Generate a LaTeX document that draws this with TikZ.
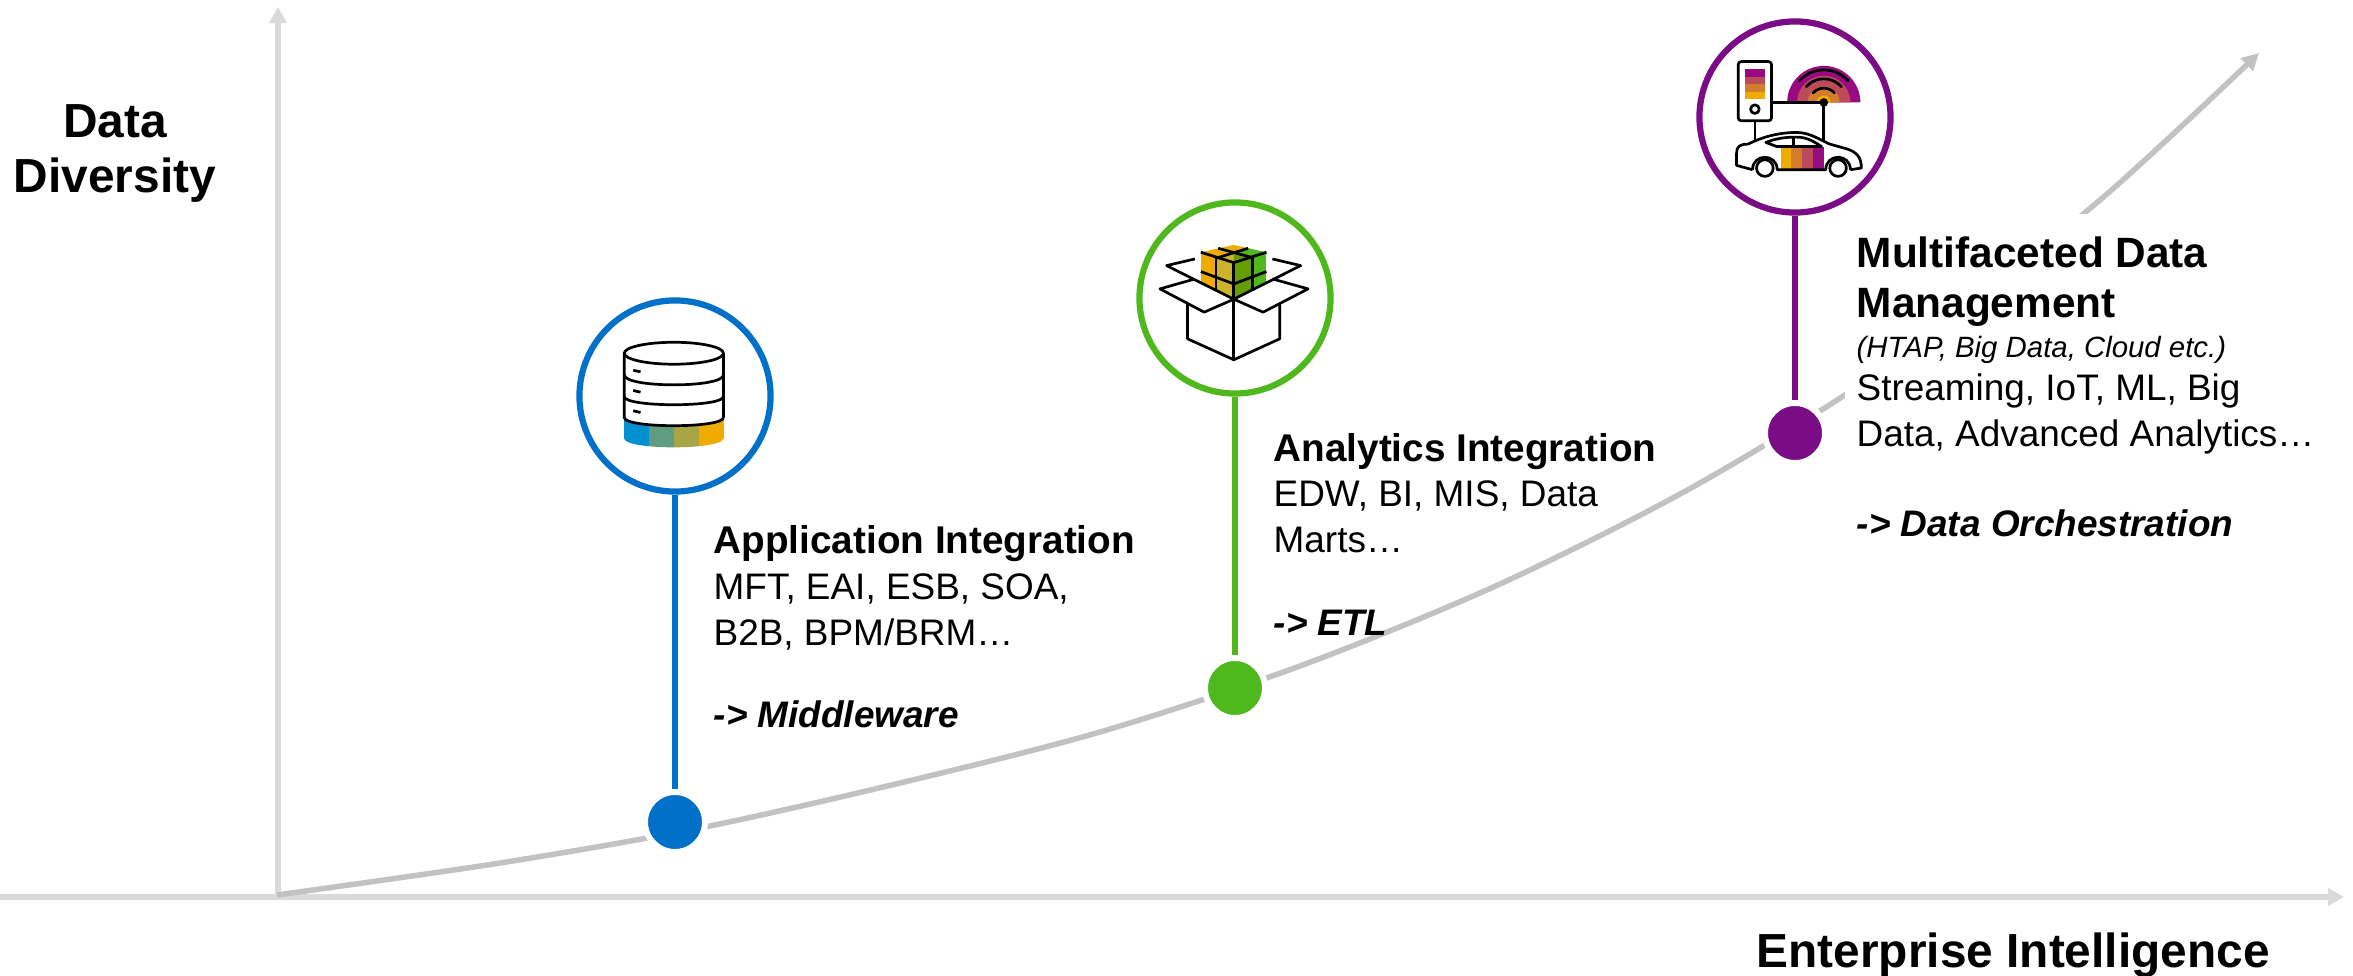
\documentclass[tikz,border=0pt]{standalone}
\usepackage{fontspec}
\setmainfont{Liberation Sans}
\usetikzlibrary{arrows.meta}
\definecolor{axisgray}{HTML}{DADADA}
\definecolor{curvegray}{HTML}{C2C2C2}
\definecolor{appblue}{HTML}{0070C9}
\definecolor{anagreen}{HTML}{4FB81C}
\definecolor{multipurple}{HTML}{7A0C85}
\definecolor{stripeamber}{HTML}{F0AB00}
\definecolor{stripeorange}{HTML}{D37C2B}
\definecolor{stripered}{HTML}{BB4A5A}
\definecolor{stripepurple}{HTML}{970A82}
\tikzset{
  axisline/.style={draw=axisgray,line width=.055cm,-{Triangle[length=.16cm,width=.17cm]}},
  curveline/.style={draw=curvegray,line width=.055cm,-{Triangle[length=.17cm,width=.17cm]}},
  ring/.style={circle,draw=#1,fill=white,line width=.062cm,minimum size=1.91cm,inner sep=0pt},
  dotmark/.style={circle,draw=white,fill=#1,line width=.06cm,minimum size=.6cm,inner sep=0pt},
  stem/.style={draw=#1,line width=.058cm},
  iconline/.style={draw=black,line width=.027cm,line join=round},
  zoomed/.style={shift={#1},x=.0033333cm,y=-.0033333cm},
  axistext/.style={inner sep=0pt,font=\fontsize{13.6}{15.65}\selectfont\bfseries},
  headtext/.style={inner sep=0pt,anchor=base west,align=left,font=\fontsize{11}{14.4}\selectfont\bfseries},
  bodytext/.style={inner sep=0pt,anchor=base west,align=left,font=\fontsize{10.5}{12.8}\selectfont},
  smalltext/.style={inner sep=0pt,anchor=base west,font=\fontsize{8.35}{10}\selectfont\itshape},
  goaltext/.style={inner sep=0pt,anchor=base west,font=\fontsize{10.5}{12.8}\selectfont\bfseries\itshape}
}
\begin{document}
\begin{tikzpicture}[x=.01cm,y=-.01cm]
    \useasboundingbox (0,0) rectangle (2353,976);
    \coordinate (xStart) at (0,897);
    \coordinate (xEnd) at (2344,897);
    \coordinate (yStart) at (278,899);
    \coordinate (yEnd) at (278,7);
    \draw[axisline] (xStart) -- (xEnd);
    \draw[axisline] (yStart) -- (yEnd);
    \draw[curveline] plot[smooth] coordinates {(277,895) (500,863) (700,828) (900,783) (1100,732) (1300,666) (1500,584) (1700,483) (1900,358) (2100,200) (2259,53)};
    \fill[white] (1845,214) rectangle (2345,560);

    \node[ring=appblue] (appRing) at (675,396) {};
    \node[dotmark=appblue] (appDot) at (675,822) {};
    \draw[stem=appblue] (appRing) -- (appDot);
    \node[ring=anagreen] (anaRing) at (1235,298) {};
    \node[dotmark=anagreen] (anaDot) at (1235,688) {};
    \draw[stem=anagreen] (anaRing) -- (anaDot);
    \node[ring=multipurple] (multiRing) at (1795,117) {};
    \node[dotmark=multipurple] (multiDot) at (1795,433) {};
    \draw[stem=multipurple] (multiRing) -- (multiDot);

    \begin{scope}[zoomed={(570,295)}]
      \begin{scope}
        \clip (162,368) -- (162,430) .. controls (162,467) and (462,467) .. (462,430) -- (462,368) .. controls (462,401) and (162,401) .. (162,368) -- cycle;
        \foreach \col/\xa/\xb in {0090D0/162/237, 5F9C80/237/312, A8A549/312/388, F0AB00/388/462} {
          \definecolor{bandcol}{HTML}{\col}
          \fill[bandcol] (\xa,360) rectangle (\xb,470);
        }
      \end{scope}
      \draw[iconline] (312,175) ellipse [x radius=149,y radius=33];
      \draw[iconline] (163,175) -- (163,368) .. controls (163,401) and (461,401) .. (461,368) -- (461,175);
      \draw[iconline] (163,240) .. controls (163,280) and (461,280) .. (461,240);
      \draw[iconline] (163,305) .. controls (163,338) and (461,338) .. (461,305);
      \foreach \ya in {226,287,348}
        \draw[iconline] (190,\ya) -- (212,\ya+5);
    \end{scope}

    \begin{scope}[zoomed={(1120,220)}]
      \begin{scope}
        \clip (342,128) -- (243,97) -- (243,185) -- (342,238) -- (440,185) -- (440,97) -- cycle;
        \fill[stripeamber] (243,70) rectangle (288,240);
        \fill[yellow!55!stripeamber!80!black] (288,70) rectangle (342,240);
        \fill[green!45!stripeamber!75!black] (342,70) rectangle (398,240);
        \fill[anagreen] (398,70) rectangle (440,240);
      \end{scope}
      \fill[stripeamber] (243,97) -- (342,75) -- (395,87) -- (342,98) -- (290,113) -- cycle;
      \fill[anagreen] (385,85) -- (342,98) -- (395,113) -- (440,97) -- cycle;
      \fill[yellow!55!stripeamber!80!black] (342,98) -- (290,113) -- (342,128) -- cycle;
      \fill[green!45!stripeamber!75!black] (342,98) -- (395,113) -- (342,128) -- cycle;
      \draw[iconline] (243,97) -- (342,128) -- (440,97);
      \draw[iconline] (295,85) -- (398,113);
      \draw[iconline] (385,85) -- (288,115);
      \draw[iconline] (288,115) -- (288,212);
      \draw[iconline] (398,113) -- (398,212);
      \draw[iconline] (243,155) -- (342,192) -- (440,155);
      \draw[iconline] (203,250) -- (203,357) -- (342,420) -- (480,357) -- (480,250);
      \draw[iconline] (342,128) -- (342,420);
      \draw[iconline] (222,178) -- (120,207) -- (253,277) -- (342,238) -- (430,277) -- (565,207) -- (458,177);
      \draw[iconline] (225,117) -- (140,137) -- (342,238) -- (543,137) -- (458,117);
    \end{scope}

    \begin{scope}[zoomed={(1680,0)}]
      \fill[stripepurple] plot[domain=180:360,samples=40] ({432+110*cos(\x)},{308+110*sin(\x)}) -- cycle;
      \fill[stripered] plot[domain=180:360,samples=40] ({432+80*cos(\x)},{308+80*sin(\x)}) -- cycle;
      \fill[stripeorange] plot[domain=180:360,samples=40] ({432+48*cos(\x)},{308+48*sin(\x)}) -- cycle;
      \fill[stripeamber] plot[domain=180:360,samples=30] ({432+21*cos(\x)},{308+21*sin(\x)}) -- cycle;
      \foreach \r in {98,71,43}
        \draw[iconline,line cap=round] plot[domain=222:318,samples=20] ({432+\r*cos(\x)},{308+\r*sin(\x)});
      \draw[iconline,rounded corners=.03cm] (175,185) rectangle (275,363);
      \fill[stripepurple] (195,207) rectangle (255,230);
      \fill[stripered] (195,230) rectangle (255,252);
      \fill[stripeorange] (195,252) rectangle (255,275);
      \fill[stripeamber] (195,275) rectangle (255,297);
      \draw[iconline] (225,328) circle [radius=13];
      \draw[iconline] (275,308) -- (432,308) -- (432,425);
      \draw[iconline] (225,363) -- (225,420);
      \fill[black] (432,308) circle [radius=13];
      \fill[stripeamber] (302,443) rectangle (334,508);
      \fill[stripeorange] (334,443) rectangle (367,508);
      \fill[stripered] (367,443) rectangle (400,508);
      \fill[stripepurple] (400,443) rectangle (432,508);
      \draw[iconline] (218,510) -- (170,497) -- (170,460) .. controls (170,440) and (180,433) .. (205,433) .. controls (250,410) and (300,398) .. (350,398) .. controls (390,398) and (420,420) .. (450,433) -- (500,447) .. controls (530,456) and (545,472) .. (545,505) -- (512,510);
      \draw[iconline] (218,510) .. controls (218,460) and (292,460) .. (292,510) -- (438,510) .. controls (438,460) and (512,460) .. (512,510);
      \draw[iconline] (255,505) circle [radius=25];
      \draw[iconline] (475,505) circle [radius=25];
      \draw[iconline] (258,428) .. controls (290,415) and (320,412) .. (350,412) .. controls (385,412) and (405,428) .. (425,440) -- (290,440) -- cycle;
      \draw[iconline] (342,413) -- (342,440);
    \end{scope}

    \node[axistext,align=center,anchor=base] (yLabel) at (115,193) {Data\\Diversity};
    \node[axistext,anchor=base west] (xLabel) at (1756,967) {Enterprise Intelligence};

    \node[headtext] (appHead) at (713,554) {Application Integration};
    \node[bodytext] (appBody) at (713,645) {MFT, EAI, ESB, SOA,\\B2B, BPM/BRM…};
    \node[goaltext] (appGoal) at (713,727) {-> Middleware};

    \node[headtext] (anaHead) at (1273,462) {Analytics Integration};
    \node[bodytext] (anaBody) at (1273,552) {EDW, BI, MIS, Data\\Marts…};
    \node[goaltext] (anaGoal) at (1273,635) {-> ETL};

    \node[headtext,font=\fontsize{12.05}{14.4}\selectfont\bfseries] (multiHead) at (1856,318) {Multifaceted Data\\Management};
    \node[smalltext] (multiNote) at (1856,357) {(HTAP, Big Data, Cloud etc.)};
    \node[bodytext] (multiBody) at (1856,446) {Streaming, IoT, ML, Big\\Data, Advanced Analytics…};
    \node[goaltext] (multiGoal) at (1856,536) {-> Data Orchestration};
\end{tikzpicture}
\end{document}
